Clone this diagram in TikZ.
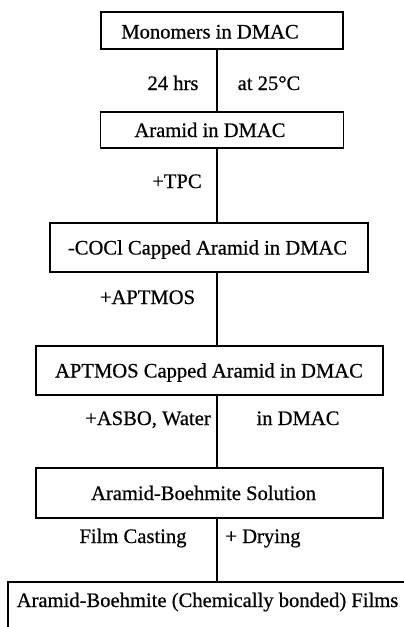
\documentclass[tikz,border=0pt]{standalone}
\usepackage{fontspec}
\setmainfont{Liberation Serif}
\newfontfamily\lblfont[FakeBold=0.6]{Liberation Serif}
\begin{document}
\begin{tikzpicture}[x=1pt,y=-1pt,
  box/.style={draw, line width=1.3pt, inner sep=0pt},
  lbl/.style={font=\lblfont\fontsize{20.6}{24}\selectfont, inner sep=0pt, text height=14pt, text depth=0pt},
  conn/.style={line width=1.2pt}]
\useasboundingbox (0,0) rectangle (404,627);
\clip (0,0) rectangle (404,627);
\coordinate (lx) at (217,0);
% boxes
\node[box, minimum width=242pt, minimum height=37pt,
  label={[lbl, xshift=-12pt, yshift=-1pt]center:Monomers in DMAC}] (b1) at (222,30.5) {};
\node[box, minimum width=243pt, minimum height=36pt,
  label={[lbl, xshift=-12pt]center:Aramid in DMAC}] (b2) at (222,130) {};
\node[box, minimum width=318pt, minimum height=49pt,
  label={[lbl, xshift=-1.5pt]center:-COCl Capped Aramid in DMAC}] (b3) at (209,247.5) {};
\node[box, minimum width=347pt, minimum height=49pt,
  label={[lbl, xshift=-0.5pt]center:APTMOS Capped Aramid in DMAC}] (b4) at (209.5,370.5) {};
\node[box, minimum width=347pt, minimum height=50pt,
  label={[lbl, xshift=-6pt]center:Aramid-Boehmite Solution}] (b5) at (209.5,493) {};
\node[box, minimum width=420pt, minimum height=80pt,
  label={[lbl, xshift=-10.5pt, yshift=22pt]center:Aramid-Boehmite (Chemically bonded) Films}] (b6) at (218,622) {};
% connectors
\draw[conn] (b1.south -| lx) -- (b2.north -| lx);
\draw[conn] (b2.south -| lx) -- (b3.north -| lx);
\draw[conn] (b3.south -| lx) -- (b4.north -| lx);
\draw[conn] (b4.south -| lx) -- (b5.north -| lx);
\draw[conn] (b5.south -| lx) -- (b6.north -| lx);
% side labels
\node[lbl] (t1) at (173,83) {24 hrs};
\node[lbl] (t2) at (269,83) {at 25°C};
\node[lbl] (t3) at (177,181) {+TPC};
\node[lbl] (t4) at (147.5,297) {+APTMOS};
\node[lbl] (t5) at (148,418) {+ASBO, Water};
\node[lbl] (t6) at (298,418) {in DMAC};
\node[lbl] (t7) at (133,536) {Film Casting};
\node[lbl] (t8) at (263,536) {+ Drying};
\end{tikzpicture}
\end{document}
